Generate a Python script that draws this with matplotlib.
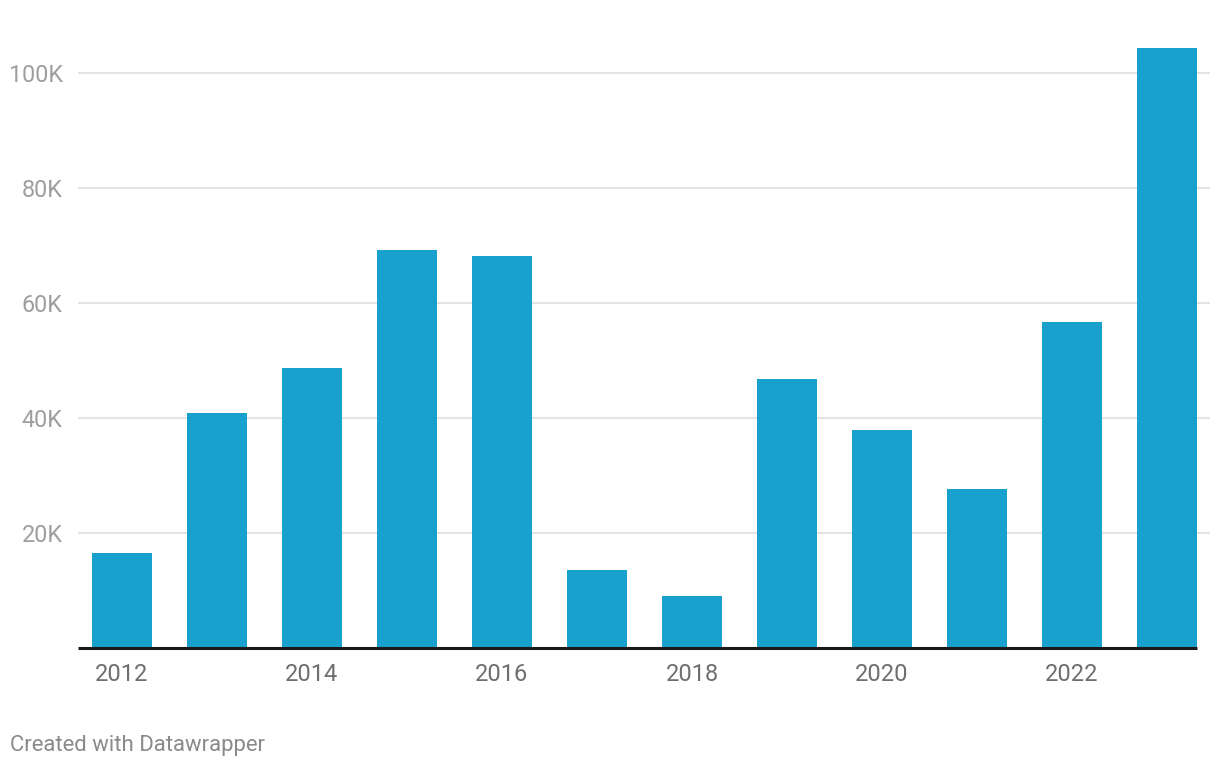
import matplotlib
matplotlib.use("Agg")
import matplotlib.pyplot as plt

years = [2012, 2013, 2014, 2015, 2016, 2017, 2018, 2019, 2020, 2021, 2022, 2023]
values = [16500, 40900, 48700, 69200, 68200, 13600, 9000, 46800, 37900, 27700, 56700, 104400]
y_ticks = [20000, 40000, 60000, 80000, 100000]
y_tick_labels = ["20K", "40K", "60K", "80K", "100K"]
x_tick_years = [2012, 2014, 2016, 2018, 2020, 2022]

plt.rcParams['font.family'] = ['Roboto', 'DejaVu Sans']

W, H = 1220, 770
fig = plt.figure(figsize=(W / 100, H / 100), dpi=100)
left_px, right_px, top_px, bottom_px = 78, 1210, 38.5, 648
ax = fig.add_axes([left_px / W, (H - bottom_px) / H, (right_px - left_px) / W, (bottom_px - top_px) / H])

pos = list(range(len(years)))
ax.bar(pos, values, width=0.64, color='#18a1cd', zorder=3)

xmin = (left_px - 122) / 95
xmax = (right_px - 122) / 95
ax.set_xlim(xmin, xmax)
ax.set_ylim(0, 106000)

for t in y_ticks:
    ax.axhline(t, color='#e3e3e3', lw=1.5, zorder=1)
ax.hlines(0, xmin, len(years) - 1 + 0.32, color='#1a1a1a', lw=2.2, zorder=4, clip_on=False)

ax.set_yticks(y_ticks)
ax.set_yticklabels(y_tick_labels)
ax.tick_params(axis='y', length=0, pad=11, labelsize=16.8, labelcolor='#9e9e9e')
ax.set_xticks([years.index(y) for y in x_tick_years])
ax.set_xticklabels([str(y) for y in x_tick_years])
ax.tick_params(axis='x', length=0, pad=11, labelsize=17, labelcolor='#6e6e6e')

for s in ax.spines.values():
    s.set_visible(False)

fig.text(10 / W, 1 - 746 / H, "Created with Datawrapper", fontsize=15.9, color='#8a8a8a', va='center', ha='left')

fig.savefig('out.png', dpi=100)
